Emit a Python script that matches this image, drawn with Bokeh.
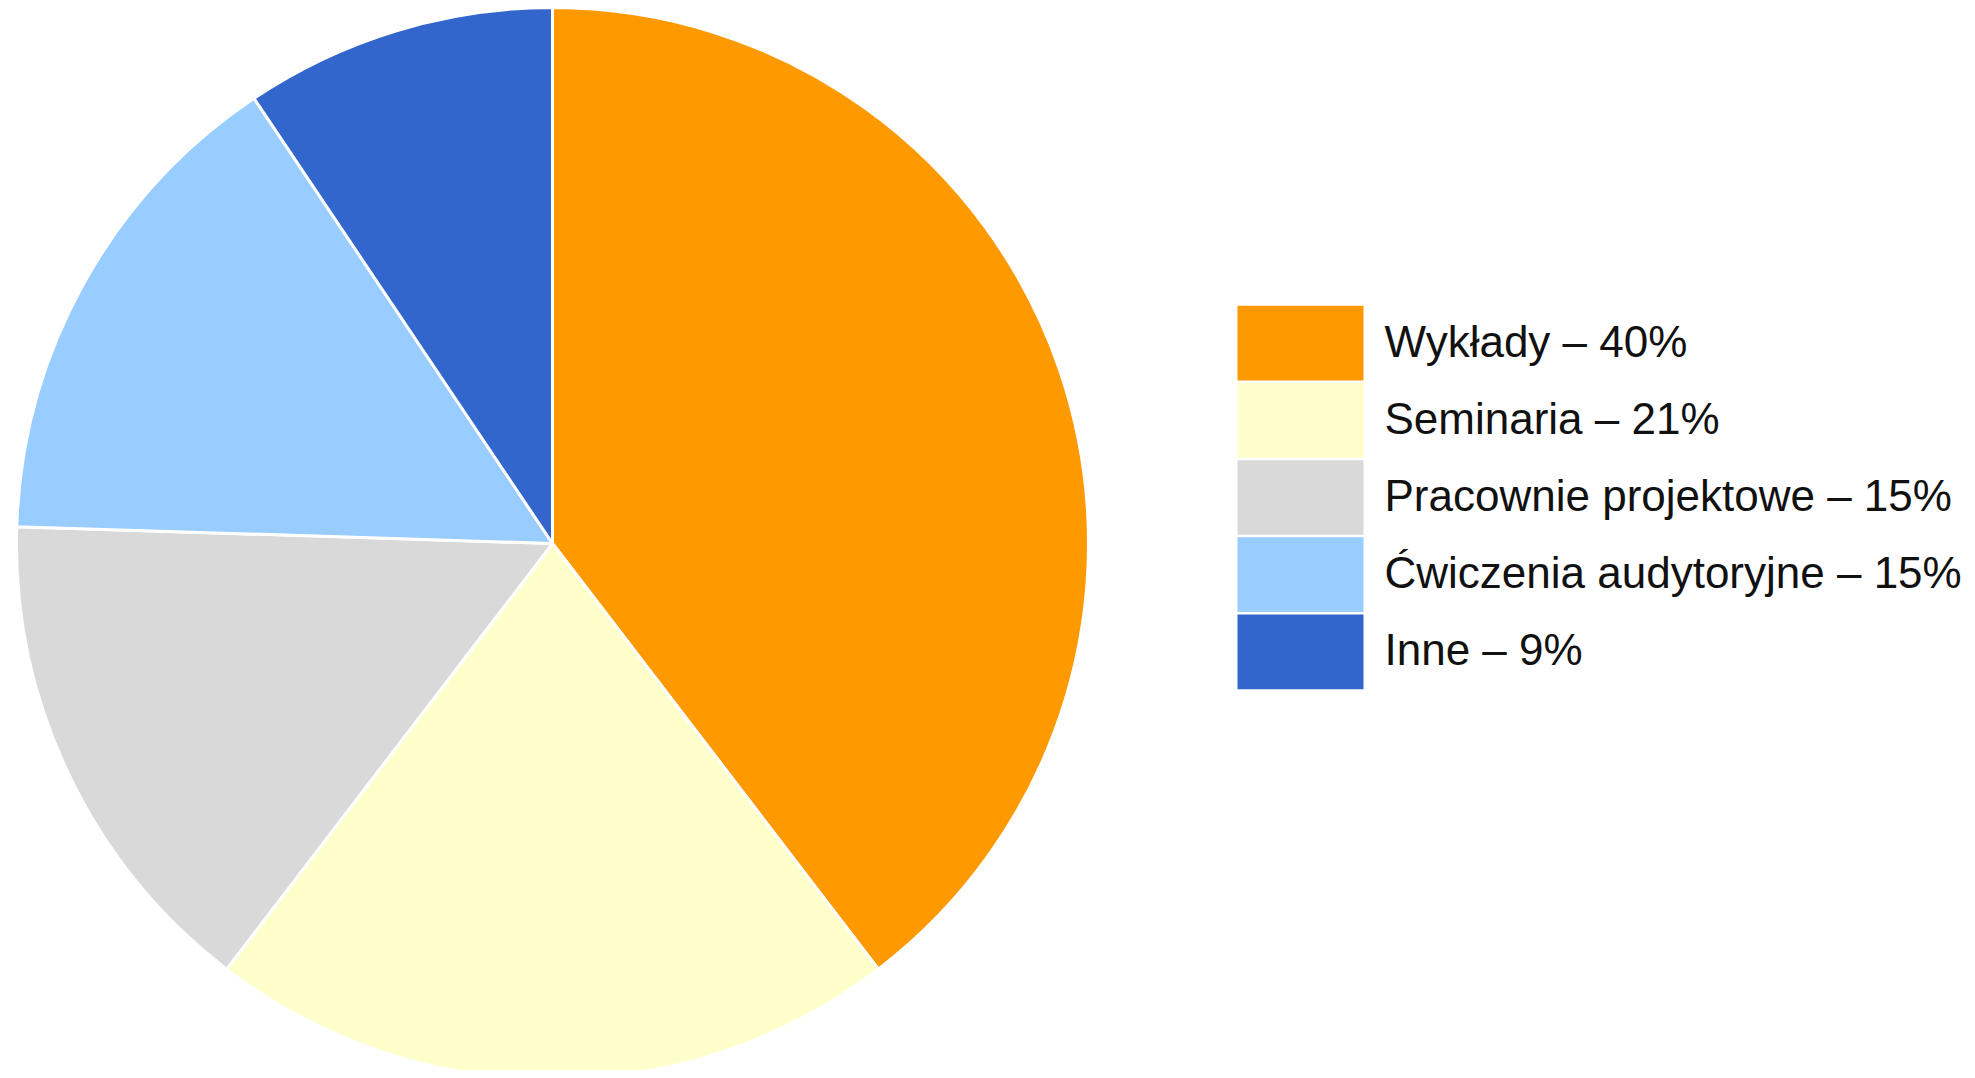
import numpy as np
from bokeh.plotting import figure
from bokeh.models import Range1d, ColumnDataSource
from bokeh.core.properties import value
from bokeh.embed import file_html
from bokeh.resources import INLINE

categories = ["Wykłady", "Seminaria", "Pracownie projektowe", "Ćwiczenia audytoryjne", "Inne"]
shares = [39.6, 20.8, 15.1, 15.1, 9.4]
labels = ["Wykłady – 40%", "Seminaria – 21%", "Pracownie projektowe – 15%",
          "Ćwiczenia audytoryjne – 15%", "Inne – 9%"]
colors = ["#FF9900", "#FFFFCC", "#D9D9D9", "#99CCFF", "#3366CC"]

W, H = 1967, 1070
p = figure(width=W, height=H, output_backend="svg", toolbar_location=None,
           x_range=Range1d(0, W), y_range=Range1d(0, H), min_border=0)
p.axis.visible = False
p.grid.visible = False
p.outline_line_color = None
p.background_fill_color = "white"

vals = np.array(shares, dtype=float)
frac = vals / vals.sum()
cum = np.concatenate([[0.0], np.cumsum(frac)])
start = np.pi / 2 - 2 * np.pi * cum[:-1]
end = np.pi / 2 - 2 * np.pi * cum[1:]

cx, cy, r = 552, H - 543, 536
src = ColumnDataSource(dict(start=start, end=end, color=colors, cat=categories))
p.wedge(x=cx, y=cy, radius=r, start_angle="start", end_angle="end", direction="clock",
        fill_color="color", line_color="white", line_width=3, source=src)

# legend
n = len(labels)
top = 304
pitch = 77.2
ys = [H - (top + (i + 0.5) * pitch) for i in range(n)]
lsrc = ColumnDataSource(dict(y=ys, color=colors, label=labels))
p.rect(x=1300, y="y", width=126, height=pitch - 2.5, fill_color="color",
       line_color=None, source=lsrc)
p.text(x=1384, y="y", text="label", text_font=value("Liberation Sans"),
       text_font_size="44px", text_baseline="middle", text_align="left",
       text_color="#111111", y_offset=-2, source=lsrc)

open("out.html", "w").write(file_html(p, INLINE))
